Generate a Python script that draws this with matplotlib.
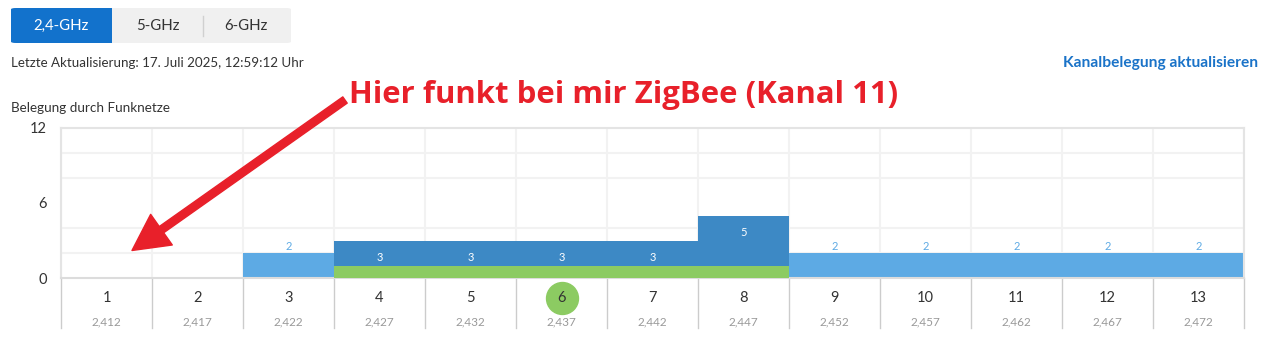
import matplotlib.pyplot as plt
from matplotlib.patches import FancyBboxPatch, Rectangle
from matplotlib.transforms import blended_transform_factory
import numpy as np

plt.rcParams['font.family'] = ['Lato', 'DejaVu Sans']

channels = list(range(1, 14))
freqs = ["2,412", "2,417", "2,422", "2,427", "2,432", "2,437", "2,442",
         "2,447", "2,452", "2,457", "2,462", "2,467", "2,472"]
light_nets = [0, 0, 2, 2, 2, 2, 2, 2, 2, 2, 2, 2, 2]   # andere Netze (hell)
dark_nets = [0, 0, 0, 3, 3, 3, 3, 5, 0, 0, 0, 0, 0]    # andere Netze (dunkel)
own_net = [0, 0, 0, 1, 1, 1, 1, 1, 0, 0, 0, 0, 0]      # eigenes Netz
own_channel = 6

LIGHT = "#5daae4"
DARK = "#3d89c5"
GREEN = "#8ccb62"
RED = "#e8202a"

W, H = 1276, 359
fig = plt.figure(figsize=(W / 100, H / 100), dpi=100)
fig.patch.set_facecolor("white")

def px(x, y):
    return x / W, 1 - y / H

# plot area
ax = fig.add_axes([61 / W, 81 / H, 1183 / W, 150 / H])
ax.set_xlim(0.5, 13.5)
ax.set_ylim(0, 12)

ax.bar(channels, light_nets, width=1, color=LIGHT, zorder=2)
ax.bar(channels, dark_nets, width=1, color=DARK, zorder=3)
ax.bar(channels, own_net, width=1, color=GREEN, zorder=4)

for c, lv, dv in zip(channels, light_nets, dark_nets):
    if dv > 0:
        ax.annotate(str(dv), (c, dv), xytext=(0, -12), textcoords="offset points",
                    ha="center", va="center", color="white", fontsize=8, zorder=5)
    elif lv > 0:
        ax.annotate(str(lv), (c, lv), xytext=(0, 5), textcoords="offset points",
                    ha="center", va="center", color=LIGHT, fontsize=8, zorder=5)

# grid
ax.set_yticks([0, 6, 12])
ax.set_yticks(np.arange(0, 13, 2), minor=True)
ax.set_xticks(np.arange(0.5, 13.6, 1), minor=True)
ax.set_xticks([])
ax.grid(which="minor", color="#f2f2f2", lw=1.5, zorder=0)
ax.tick_params(axis="y", which="both", length=0, labelsize=10.5, labelcolor="#333333", pad=10)
ax.tick_params(axis="x", which="both", length=0)
for s in ax.spines.values():
    s.set_color("#e4e4e4")
    s.set_linewidth(1.5)
ax.spines["bottom"].set_color("#dcdcdc")

# channel labels below the axis
tr = blended_transform_factory(ax.transData, ax.transAxes)
for c, f in zip(channels, freqs):
    ax.text(c, -0.133, str(c), transform=tr, ha="center", va="center",
            fontsize=10.5, color="#333333", zorder=6)
    ax.text(c, -0.29, f, transform=tr, ha="center", va="center",
            fontsize=8.5, color="#999999")
for b in np.arange(0.5, 13.6, 1):
    ax.plot([b, b], [0, -0.33], transform=tr, color="#cccccc", lw=1, clip_on=False)
ax.plot([own_channel], [-0.133], transform=tr, marker="o", markersize=23,
        color=GREEN, clip_on=False, zorder=5)

# tabs
tab = FancyBboxPatch(px(11, 43), 280 / W, 35 / H,
                     boxstyle="round,pad=0,rounding_size=0.004",
                     transform=fig.transFigure, fc="#f0f0f0", ec="none")
fig.patches.append(tab)
blue = FancyBboxPatch(px(11, 43), 101 / W, 35 / H,
                      boxstyle="round,pad=0,rounding_size=0.004",
                      transform=fig.transFigure, fc="#1272cc", ec="none")
fig.patches.append(blue)
fig.patches.append(Rectangle(px(100, 43), 12 / W, 35 / H, transform=fig.transFigure,
                             fc="#1272cc", ec="none"))
fig.add_artist(plt.Line2D([203 / W, 203 / W], [1 - 36 / H, 1 - 16 / H],
                          color="#d0d0d0", lw=1))
fig.text(*px(61, 26), "2,4-GHz", ha="center", va="center", color="white", fontsize=10.8)
fig.text(*px(158, 26), "5-GHz", ha="center", va="center", color="#333333", fontsize=10.8)
fig.text(*px(246, 26), "6-GHz", ha="center", va="center", color="#333333", fontsize=10.8)

fig.text(*px(11, 63), "Letzte Aktualisierung: 17. Juli 2025, 12:59:12 Uhr",
         ha="left", va="center", fontsize=9.6, color="#333333")
fig.text(*px(1258, 63), "Kanalbelegung aktualisieren", ha="right", va="center",
         fontsize=11.2, color="#1a73c8", fontweight="bold")
fig.text(*px(11, 108), "Belegung durch Funknetze", ha="left", va="center",
         fontsize=9.7, color="#333333")

# annotation
fig.text(*px(349, 95), "Hier funkt bei mir ZigBee (Kanal 11)", ha="left", va="center",
         fontsize=22.4, color=RED, fontweight="bold", family=["Open Sans", "DejaVu Sans"])
ax.annotate("", xy=(1.28, 2.2), xycoords="data",
            xytext=(345, H - 100), textcoords="figure pixels",
            arrowprops=dict(width=5.5, headwidth=27, headlength=26, color=RED, shrink=0),
            annotation_clip=False)

fig.savefig("out.png", dpi=100)
